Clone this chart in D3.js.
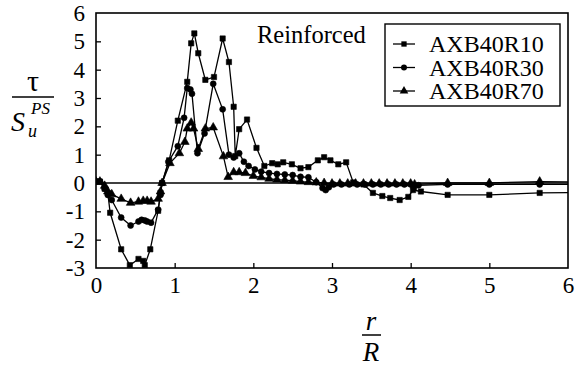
<!DOCTYPE html>
<html>
<head>
<meta charset="utf-8">
<script src="https://cdn.jsdelivr.net/npm/d3@7"></script>
<style>
  body { margin: 0; background: #fff; }
</style>
</head>
<body>
<svg width="582" height="371" font-family="Liberation Serif, Times New Roman, serif"></svg>
<script>
'use strict';

// the data
var seriesNames = ['AXB40R10', 'AXB40R30', 'AXB40R70'];
var seriesShapes = ['square', 'circle', 'triangle'];

var x10 = [0, 0.05, 0.11, 0.15, 0.18, 0.32, 0.43, 0.54, 0.60, 0.62, 0.69, 0.79, 0.82, 0.84, 0.93, 1.04, 1.16, 1.21, 1.25, 1.30, 1.39, 1.50, 1.61, 1.69, 1.75, 1.77, 1.82, 1.92, 2.04, 2.14, 2.24, 2.31, 2.38, 2.49, 2.60, 2.70, 2.82, 2.90, 2.98, 3.08, 3.18, 3.27, 3.40, 3.52, 3.64, 3.74, 3.86, 3.97, 4.03, 4.13, 4.47, 5.00, 5.64, 6.2];
var y10 = [0.05, 0.05, -0.2, -0.35, -1.05, -2.34, -2.9, -2.68, -2.75, -2.9, -2.34, -0.98, -0.35, 0.0, 0.8, 2.2, 3.57, 4.93, 5.28, 4.58, 3.64, 3.74, 5.1, 4.27, 2.69, 0.95, 1.9, 2.24, 1.24, 0.6, 0.7, 0.66, 0.73, 0.66, 0.52, 0.56, 0.8, 0.91, 0.8, 0.66, 0.73, 0.02, -0.05, -0.35, -0.46, -0.53, -0.6, -0.49, -0.25, -0.3, -0.42, -0.42, -0.35, -0.33];

var x30 = [0, 0.05, 0.11, 0.15, 0.20, 0.32, 0.44, 0.54, 0.58, 0.62, 0.65, 0.70, 0.79, 0.82, 0.84, 0.92, 1.04, 1.12, 1.16, 1.20, 1.22, 1.29, 1.38, 1.49, 1.61, 1.69, 1.75, 1.82, 1.88, 1.94, 2.02, 2.10, 2.20, 2.30, 2.40, 2.50, 2.60, 2.70, 2.80, 2.88, 2.92, 2.96, 3.02, 3.12, 3.22, 3.32, 3.42, 3.52, 3.62, 3.72, 3.82, 3.92, 4.00, 4.04, 4.10, 4.47, 5.00, 5.64, 6.2];
var y30 = [0.05, 0.05, -0.2, -0.42, -0.6, -1.22, -1.5, -1.36, -1.3, -1.32, -1.36, -1.4, -0.94, -0.42, 0.0, 0.75, 1.3, 2.3, 3.35, 3.3, 3.15, 1.05, 1.75, 3.5, 2.6, 1.0, 0.9, 1.05, 0.75, 0.6, 0.48, 0.4, 0.35, 0.32, 0.3, 0.28, 0.22, 0.2, 0.03, -0.18, -0.25, -0.15, -0.05, -0.05, -0.05, -0.05, -0.05, -0.05, -0.05, -0.05, -0.05, -0.05, -0.05, -0.18, -0.08, -0.05, -0.05, -0.05, -0.05];

var x70 = [0, 0.05, 0.11, 0.15, 0.20, 0.32, 0.44, 0.54, 0.60, 0.65, 0.70, 0.79, 0.82, 0.84, 0.94, 1.06, 1.13, 1.16, 1.21, 1.24, 1.30, 1.39, 1.49, 1.62, 1.68, 1.75, 1.82, 1.90, 2.00, 2.10, 2.20, 2.30, 2.40, 2.50, 2.60, 2.70, 2.80, 2.90, 3.00, 3.10, 3.20, 3.30, 3.40, 3.50, 3.60, 3.70, 3.80, 3.90, 4.00, 4.05, 4.47, 5.00, 5.64, 6.2];
var y70 = [0.05, 0.05, -0.1, -0.3, -0.4, -0.56, -0.7, -0.66, -0.63, -0.63, -0.66, -0.56, -0.3, 0.0, 0.7, 1.05, 1.45, 1.92, 2.13, 1.92, 1.2, 1.92, 1.96, 0.94, 0.21, 0.38, 0.38, 0.35, 0.25, 0.2, 0.15, 0.12, 0.1, 0.08, 0.05, 0.03, 0.02, 0.0, -0.02, -0.02, -0.02, -0.02, -0.02, -0.02, -0.02, -0.02, -0.02, -0.02, -0.02, -0.05, 0.0, 0.0, 0.05, 0.03];

var xTicks = [0, 1, 2, 3, 4, 5, 6];
var yTicks = [-3, -2, -1, 0, 1, 2, 3, 4, 5, 6];

var allX = [x10, x30, x70];
var allY = [y10, y30, y70];

var FONT = 'Liberation Serif, Times New Roman, serif';

var svg = d3.select('svg');

var x = d3.scaleLinear().domain([0, 6]).range([96, 568]);
var y = d3.scaleLinear().domain([-3, 6]).range([268, 13]);

svg.append('clipPath').attr('id', 'plotclip')
  .append('rect')
  .attr('x', x(0)).attr('y', y(6))
  .attr('width', x(6) - x(0)).attr('height', y(-3) - y(6));

// axes: inward ticks, plain integer labels
var xAxis = svg.append('g')
  .attr('transform', 'translate(0,' + y(-3) + ')')
  .call(d3.axisBottom(x).tickValues(xTicks).tickFormat(d3.format('d'))
    .tickSize(-5).tickSizeOuter(0).tickPadding(9));
var yAxis = svg.append('g')
  .attr('transform', 'translate(' + x(0) + ',0)')
  .call(d3.axisLeft(y).tickValues(yTicks).tickFormat(d3.format('d'))
    .tickSize(-5).tickSizeOuter(0).tickPadding(11));

[xAxis, yAxis].forEach(function(ax){
  ax.attr('font-family', FONT).attr('font-size', 23);
  ax.select('.domain').remove();
  ax.selectAll('.tick line').attr('stroke', '#000').attr('stroke-width', 1.3);
  ax.selectAll('.tick text').attr('fill', '#000');
});
// drop the ticks sitting on the frame corners
xAxis.selectAll('.tick').filter(function(d){ return d === 0 || d === 6; }).select('line').remove();
yAxis.selectAll('.tick').filter(function(d){ return d === -3 || d === 6; }).select('line').remove();
// minus sign like the print: plain hyphen
yAxis.selectAll('.tick text').text(function(d){ return String(d); });

// zero line
svg.append('line')
  .attr('x1', x(0)).attr('x2', x(6))
  .attr('y1', y(0)).attr('y2', y(0))
  .attr('stroke', '#000').attr('stroke-width', 1.5);

// frame
svg.append('rect')
  .attr('x', x(0)).attr('y', y(6))
  .attr('width', x(6) - x(0)).attr('height', y(-3) - y(6))
  .attr('fill', 'none').attr('stroke', '#000').attr('stroke-width', 1.6);

var symbolType = {
  square: d3.symbolSquare,
  circle: d3.symbolCircle,
  triangle: d3.symbolTriangle
};
var symbolSize = { square: 28, circle: 28, triangle: 32 };

var line = d3.line()
  .x(function(d){ return x(d[0]); })
  .y(function(d){ return y(d[1]); });

var plot = svg.append('g').attr('clip-path', 'url(#plotclip)');

seriesNames.forEach(function(name, i){
  var pts = allX[i].map(function(v, j){ return [v, allY[i][j]]; });
  var g = plot.append('g');
  g.append('path')
    .datum(pts)
    .attr('d', line)
    .attr('fill', 'none')
    .attr('stroke', '#000')
    .attr('stroke-width', 1.3);
  g.selectAll('path.mk')
    .data(pts)
    .enter().append('path')
    .attr('class', 'mk')
    .attr('d', d3.symbol().type(symbolType[seriesShapes[i]]).size(symbolSize[seriesShapes[i]]))
    .attr('transform', function(d){ return 'translate(' + x(d[0]) + ',' + y(d[1]) + ')'; })
    .attr('fill', '#000')
    .attr('stroke', '#000')
    .attr('stroke-width', 0.6);
});

// annotation
svg.append('text')
  .attr('x', 257).attr('y', 43)
  .attr('font-family', FONT).attr('font-size', 24.5)
  .text('Reinforced');

// legend
var legend = svg.append('g').attr('font-family', FONT).attr('font-size', 24);
legend.append('rect')
  .attr('x', 385).attr('y', 24)
  .attr('width', 175).attr('height', 82)
  .attr('fill', '#fff').attr('stroke', '#000').attr('stroke-width', 1.4);
seriesNames.forEach(function(name, i){
  var ly = 44 + i * 23.5;
  legend.append('line')
    .attr('x1', 393).attr('x2', 415).attr('y1', ly).attr('y2', ly)
    .attr('stroke', '#000').attr('stroke-width', 1.3);
  legend.append('path')
    .attr('d', d3.symbol().type(symbolType[seriesShapes[i]]).size(symbolSize[seriesShapes[i]]))
    .attr('transform', 'translate(404,' + ly + ')')
    .attr('fill', '#000');
  legend.append('text')
    .attr('x', 429).attr('y', ly + 8)
    .text(name);
});

// y label: tau over S_u^PS
var yl = svg.append('g').attr('font-family', FONT);
yl.append('text').attr('x', 33).attr('y', 91).attr('text-anchor', 'middle')
  .attr('font-size', 30).text('τ');
yl.append('line').attr('x1', 12).attr('x2', 54).attr('y1', 97).attr('y2', 97)
  .attr('stroke', '#000').attr('stroke-width', 1.5);
yl.append('text').attr('x', 11).attr('y', 131)
  .attr('font-size', 28).attr('font-style', 'italic').text('S');
yl.append('text').attr('x', 28).attr('y', 137)
  .attr('font-size', 18).attr('font-style', 'italic').text('u');
yl.append('text').attr('x', 31).attr('y', 114)
  .attr('font-size', 17).attr('font-style', 'italic').text('PS');

// x label: r over R
var xl = svg.append('g').attr('font-family', FONT);
xl.append('text').attr('x', 371).attr('y', 330).attr('text-anchor', 'middle')
  .attr('font-size', 27).attr('font-style', 'italic').text('r');
xl.append('line').attr('x1', 362).attr('x2', 381).attr('y1', 335).attr('y2', 335)
  .attr('stroke', '#000').attr('stroke-width', 1.5);
xl.append('text').attr('x', 371).attr('y', 361).attr('text-anchor', 'middle')
  .attr('font-size', 27).attr('font-style', 'italic').text('R');
</script>
</body>
</html>
